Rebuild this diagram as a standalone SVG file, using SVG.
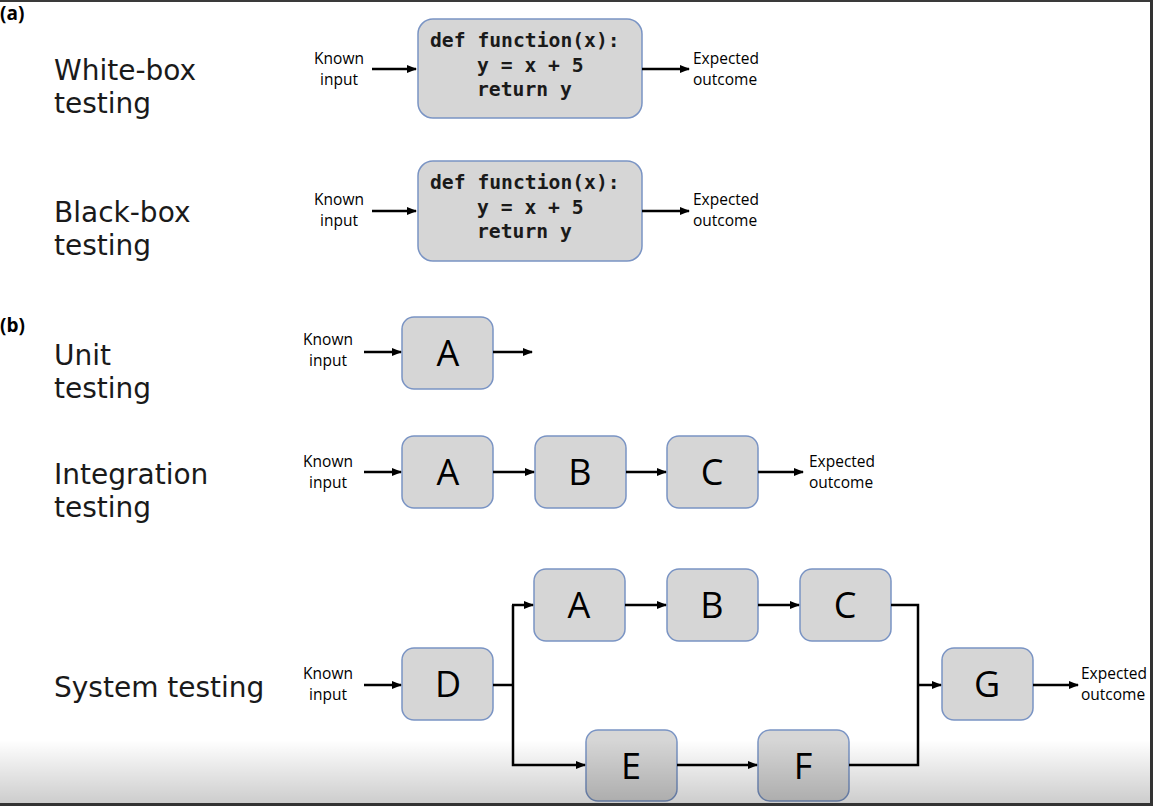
<svg xmlns="http://www.w3.org/2000/svg" width="1153" height="806" viewBox="0 0 1153 806">
<defs>
<marker id="ah" markerWidth="10" markerHeight="8" refX="9" refY="4" orient="auto" markerUnits="userSpaceOnUse">
<path d="M0,0 L10,4 L0,8 Z" fill="#000"/>
</marker>
<linearGradient id="shade" x1="0" y1="0" x2="0" y2="1">
<stop offset="0" stop-color="#000" stop-opacity="0"/>
<stop offset="1" stop-color="#000" stop-opacity="0.2"/>
</linearGradient>
</defs>
<style>
.lbl{font-family:"DejaVu Sans",sans-serif;font-size:28px;fill:#1a1a1a}
.tag{font-family:"Open Sans","Liberation Sans",sans-serif;font-size:19px;font-weight:bold;fill:#000}
.io{font-family:"Open Sans","Liberation Sans",sans-serif;font-size:15.5px;fill:#000;text-anchor:middle}
.ioL{font-family:"Open Sans","Liberation Sans",sans-serif;font-size:15.5px;fill:#000}
.box{fill:#d6d6d6;stroke:#7a94c4;stroke-width:1.5}
.code{font-family:"DejaVu Sans Mono","Liberation Mono",monospace;font-size:19.7px;font-weight:bold;fill:#1a1a1a}
.let{font-family:"Open Sans","Liberation Sans",sans-serif;font-size:36px;fill:#000;text-anchor:middle}
.ln{fill:none;stroke:#000;stroke-width:2.5}
</style>
<rect x="0" y="0" width="1153" height="806" fill="#fff"/>

<g id="labels">
<text class="tag" x="0" y="20">(a)</text>
<text class="lbl" x="54" y="80">White-box</text>
<text class="lbl" x="54" y="113">testing</text>
<text class="lbl" x="54" y="222">Black-box</text>
<text class="lbl" x="54" y="255">testing</text>
<text class="tag" x="0" y="332">(b)</text>
<text class="lbl" x="54" y="365">Unit</text>
<text class="lbl" x="54" y="398">testing</text>
<text class="lbl" x="54" y="484">Integration</text>
<text class="lbl" x="54" y="517">testing</text>
<text class="lbl" x="54" y="697">System testing</text>
</g>

<g id="io-texts">
<text class="io" x="339" y="64">Known</text><text class="io" x="339" y="85">input</text>
<text class="ioL" x="693" y="64">Expected</text><text class="ioL" x="693" y="85">outcome</text>
<text class="io" x="339" y="205">Known</text><text class="io" x="339" y="226">input</text>
<text class="ioL" x="693" y="205">Expected</text><text class="ioL" x="693" y="226">outcome</text>
<text class="io" x="328" y="345">Known</text><text class="io" x="328" y="366">input</text>
<text class="io" x="328" y="467">Known</text><text class="io" x="328" y="488">input</text>
<text class="ioL" x="809" y="467">Expected</text><text class="ioL" x="809" y="488">outcome</text>
<text class="io" x="328" y="679">Known</text><text class="io" x="328" y="700">input</text>
<text class="ioL" x="1081" y="679">Expected</text><text class="ioL" x="1081" y="700">outcome</text>
</g>

<g id="node-white">
<rect class="box" x="418" y="19" width="224" height="99" rx="15"/>
<text class="code" x="430" y="47">def function(x):</text>
<text class="code" x="477" y="72">y = x + 5</text>
<text class="code" x="477" y="96">return y</text>
</g>
<g id="node-black">
<rect class="box" x="418" y="161" width="224" height="100" rx="15"/>
<text class="code" x="430" y="189">def function(x):</text>
<text class="code" x="477" y="214">y = x + 5</text>
<text class="code" x="477" y="238">return y</text>
</g>

<g id="node-unit-A"><rect class="box" x="402" y="317" width="91" height="72" rx="12"/><text class="let" x="448" y="366">A</text></g>

<g id="node-int-A"><rect class="box" x="402" y="436" width="91" height="72" rx="12"/><text class="let" x="448" y="485">A</text></g>
<g id="node-int-B"><rect class="box" x="535" y="436" width="91" height="72" rx="12"/><text class="let" x="580" y="485">B</text></g>
<g id="node-int-C"><rect class="box" x="667" y="436" width="91" height="72" rx="12"/><text class="let" x="712" y="485">C</text></g>

<g id="node-sys-D"><rect class="box" x="402" y="648" width="91" height="72" rx="12"/><text class="let" x="448" y="697">D</text></g>
<g id="node-sys-A"><rect class="box" x="534" y="569" width="91" height="72" rx="12"/><text class="let" x="579" y="618">A</text></g>
<g id="node-sys-B"><rect class="box" x="667" y="569" width="91" height="72" rx="12"/><text class="let" x="712" y="618">B</text></g>
<g id="node-sys-C"><rect class="box" x="800" y="569" width="91" height="72" rx="12"/><text class="let" x="845" y="618">C</text></g>
<g id="node-sys-E"><rect class="box" x="586" y="730" width="91" height="71" rx="12"/><text class="let" x="631" y="779">E</text></g>
<g id="node-sys-F"><rect class="box" x="758" y="730" width="91" height="71" rx="12"/><text class="let" x="803" y="779">F</text></g>
<g id="node-sys-G"><rect class="box" x="942" y="648" width="91" height="72" rx="12"/><text class="let" x="987" y="697">G</text></g>

<g id="connectors">
<line class="ln" x1="372" y1="69" x2="416" y2="69" marker-end="url(#ah)"/>
<line class="ln" x1="642" y1="69" x2="689" y2="69" marker-end="url(#ah)"/>
<line class="ln" x1="372" y1="211" x2="416" y2="211" marker-end="url(#ah)"/>
<line class="ln" x1="642" y1="211" x2="689" y2="211" marker-end="url(#ah)"/>

<line class="ln" x1="364" y1="352" x2="401" y2="352" marker-end="url(#ah)"/>
<line class="ln" x1="493" y1="352" x2="532" y2="352" marker-end="url(#ah)"/>

<line class="ln" x1="364" y1="472" x2="401" y2="472" marker-end="url(#ah)"/>
<line class="ln" x1="493" y1="472" x2="534" y2="472" marker-end="url(#ah)"/>
<line class="ln" x1="626" y1="472" x2="666" y2="472" marker-end="url(#ah)"/>
<line class="ln" x1="758" y1="472" x2="803" y2="472" marker-end="url(#ah)"/>

<line class="ln" x1="364" y1="685" x2="401" y2="685" marker-end="url(#ah)"/>
<polyline class="ln" points="493,685 513,685"/>
<polyline class="ln" points="513,605 513,765 585,765" marker-end="url(#ah)"/>
<line class="ln" x1="512" y1="605" x2="533" y2="605" marker-end="url(#ah)"/>
<line class="ln" x1="625" y1="605" x2="666" y2="605" marker-end="url(#ah)"/>
<line class="ln" x1="758" y1="605" x2="799" y2="605" marker-end="url(#ah)"/>
<line class="ln" x1="677" y1="765" x2="757" y2="765" marker-end="url(#ah)"/>
<polyline class="ln" points="891,605 918,605 918,765 849,765"/>
<line class="ln" x1="918" y1="685" x2="941" y2="685" marker-end="url(#ah)"/>
<line class="ln" x1="1033" y1="685" x2="1078" y2="685" marker-end="url(#ah)"/>
</g>

<rect x="0" y="740" width="1153" height="64" fill="url(#shade)"/>
<g id="frame">
<rect x="0" y="0" width="1153" height="2" fill="#3a3a3a"/>
<rect x="1150" y="0" width="3" height="806" fill="#333"/>
<rect x="0" y="803" width="1153" height="3" fill="#333"/>
</g>
</svg>
